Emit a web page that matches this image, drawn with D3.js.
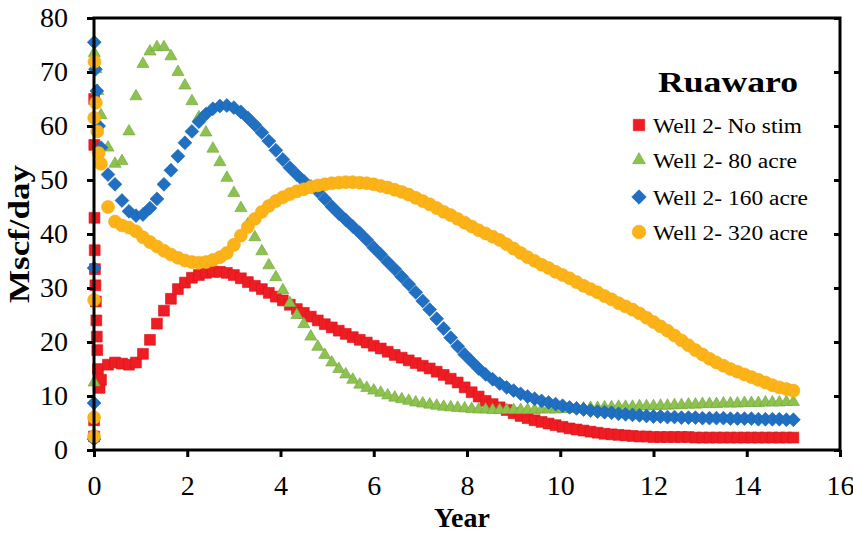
<!DOCTYPE html>
<html>
<head>
<meta charset="utf-8">
<script src="https://cdn.jsdelivr.net/npm/d3@7"></script>
<style>
  html, body { margin: 0; padding: 0; background: #ffffff; }
  svg { display: block; }
  text { font-family: "Liberation Serif", "Times New Roman", serif; fill: #000; }
</style>
</head>
<body>
<svg id="chart" width="853" height="535"></svg>
<script>
// Sampling times (years) of the simulated production profiles
const years = [
  0.15, 0.30, 0.45, 0.60, 0.75, 0.90, 1.05, 1.20, 1.35, 1.50,
  1.65, 1.80, 1.95, 2.10, 2.25, 2.40, 2.55, 2.70, 2.85, 3.00,
  3.15, 3.30, 3.45, 3.60, 3.75, 3.90, 4.05, 4.20, 4.35, 4.50,
  4.65, 4.80, 4.95, 5.10, 5.25, 5.40, 5.55, 5.70, 5.85, 6.00,
  6.15, 6.30, 6.45, 6.60, 6.75, 6.90, 7.05, 7.20, 7.35, 7.50,
  7.65, 7.80, 7.95, 8.10, 8.25, 8.40, 8.55, 8.70, 8.85, 9.00,
  9.15, 9.30, 9.45, 9.60, 9.75, 9.90, 10.05, 10.20, 10.35, 10.50,
  10.65, 10.80, 10.95, 11.10, 11.25, 11.40, 11.55, 11.70, 11.85, 12.00,
  12.15, 12.30, 12.45, 12.60, 12.75, 12.90, 13.05, 13.20, 13.35, 13.50,
  13.65, 13.80, 13.95, 14.10, 14.25, 14.40, 14.55, 14.70, 14.85, 15.00
];

// Gas rate, Mscf/day
const noStim = [
  13.0, 15.8, 16.2, 16.0, 15.8, 16.2, 17.8, 20.4, 23.4, 25.8,
  28.0, 29.8, 31.0, 31.9, 32.4, 32.8, 33.0, 33.0, 32.8, 32.4,
  31.8, 31.1, 30.4, 29.8, 29.1, 28.4, 27.7, 26.9, 26.1, 25.4,
  24.7, 24.0, 23.3, 22.7, 22.1, 21.5, 20.9, 20.4, 19.9, 19.3,
  18.8, 18.2, 17.6, 17.1, 16.6, 16.1, 15.6, 15.1, 14.5, 13.9,
  13.2, 12.5, 11.6, 10.7, 9.9, 9.1, 8.5, 7.9, 7.4, 6.8,
  6.3, 5.9, 5.5, 5.2, 4.9, 4.6, 4.3, 4.0, 3.8, 3.6,
  3.4, 3.2, 3.0, 2.9, 2.8, 2.7, 2.6, 2.5, 2.5, 2.4,
  2.4, 2.4, 2.4, 2.4, 2.4, 2.3, 2.3, 2.3, 2.3, 2.3,
  2.3, 2.3, 2.3, 2.3, 2.3, 2.3, 2.3, 2.3, 2.3, 2.3
];
const acre80 = [
  62.0, 56.0, 53.0, 53.5, 59.0, 65.5, 71.5, 73.8, 74.6, 74.6,
  72.9, 70.0, 67.5, 64.6, 61.6, 58.8, 55.8, 53.3, 50.4, 47.6,
  44.8, 41.8, 39.4, 36.8, 34.2, 32.0, 29.6, 27.2, 25.0, 23.3,
  21.0, 19.1, 17.6, 16.2, 15.0, 14.0, 13.0, 12.1, 11.5, 11.0,
  10.6, 10.1, 9.7, 9.4, 9.1, 8.8, 8.6, 8.4, 8.2, 8.0,
  7.9, 7.8, 7.7, 7.6, 7.5, 7.5, 7.4, 7.4, 7.4, 7.4,
  7.4, 7.4, 7.4, 7.5, 7.5, 7.5, 7.6, 7.6, 7.7, 7.7,
  7.8, 7.8, 7.9, 7.9, 8.0, 8.0, 8.0, 8.1, 8.1, 8.1,
  8.2, 8.2, 8.3, 8.3, 8.4, 8.4, 8.5, 8.5, 8.5, 8.6,
  8.6, 8.6, 8.7, 8.7, 8.7, 8.8, 8.8, 8.8, 8.9, 8.9
];
const acre160 = [
  56.0, 51.0, 49.2, 46.2, 44.2, 43.4, 43.6, 44.8, 46.5, 49.2,
  51.8, 54.4, 56.9, 59.0, 60.8, 62.2, 63.2, 63.7, 63.8, 63.4,
  62.6, 61.5, 60.2, 58.8, 57.2, 55.5, 53.8, 52.3, 51.0, 49.8,
  48.8, 47.9, 46.5, 45.1, 43.8, 42.6, 41.4, 40.2, 38.9, 37.5,
  36.2, 34.8, 33.5, 32.1, 30.7, 29.2, 27.6, 26.0, 24.3, 22.5,
  20.8, 19.2, 17.7, 16.4, 15.1, 14.0, 13.1, 12.3, 11.6, 11.0,
  10.4, 9.9, 9.5, 9.1, 8.8, 8.5, 8.2, 7.9, 7.7, 7.5,
  7.3, 7.1, 7.0, 6.9, 6.7, 6.6, 6.5, 6.4, 6.3, 6.2,
  6.2, 6.1, 6.1, 6.0, 6.0, 6.0, 5.9, 5.9, 5.9, 5.9,
  5.8, 5.8, 5.8, 5.8, 5.7, 5.7, 5.7, 5.7, 5.6, 5.6
];
const acre320 = [
  53.0, 45.0, 42.3, 41.6, 41.2, 40.5, 39.4, 38.5, 37.7, 36.9,
  36.2, 35.6, 35.1, 34.8, 34.7, 34.8, 35.2, 35.7, 36.5, 38.0,
  39.7, 41.3, 42.8, 44.1, 45.2, 46.1, 46.8, 47.4, 47.9, 48.3,
  48.7, 49.0, 49.2, 49.4, 49.5, 49.6, 49.6, 49.5, 49.4, 49.2,
  48.9, 48.6, 48.2, 47.8, 47.3, 46.7, 46.1, 45.5, 44.8, 44.1,
  43.5, 42.8, 42.1, 41.4, 40.7, 40.1, 39.5, 38.9, 38.1, 37.3,
  36.5, 35.7, 35.0, 34.3, 33.7, 33.0, 32.4, 31.8, 31.1, 30.4,
  29.8, 29.2, 28.5, 27.9, 27.2, 26.6, 26.0, 25.3, 24.5, 23.7,
  22.9, 22.1, 21.2, 20.3, 19.4, 18.5, 17.7, 16.9, 16.2, 15.6,
  15.0, 14.5, 14.0, 13.5, 13.0, 12.5, 12.0, 11.6, 11.3, 11.0
];

// First days of production (fine time steps right after start-up)
const noStimEarlyYears = [0.001, 0.002, 0.004, 0.006, 0.010, 0.015, 0.020, 0.030, 0.040, 0.050, 0.060, 0.070, 0.085, 0.100, 0.120];
const noStimEarly      = [2.5, 5.5, 65.0, 56.5, 43.0, 37.0, 33.5, 30.5, 27.5, 24.0, 21.0, 18.5, 15.0, 12.0, 11.5];
const acre80EarlyYears = [0.001, 0.003, 0.006, 0.040, 0.080];
const acre80Early      = [3.0, 12.5, 73.5, 70.5, 66.5];
const acre160EarlyYears = [0.001, 0.002, 0.003, 0.006, 0.030, 0.060, 0.100];
const acre160Early      = [2.0, 8.7, 33.7, 75.5, 70.5, 66.5, 60.0];
const acre320EarlyYears = [0.001, 0.002, 0.003, 0.005, 0.010, 0.040, 0.070, 0.100];
const acre320Early      = [2.5, 6.0, 27.8, 61.5, 71.9, 64.3, 59.0, 55.0];

const seriesNames = ["Well 2- No stim", "Well 2- 80 acre", "Well 2- 160 acre", "Well 2- 320 acre"];
const xTicks = [0, 2, 4, 6, 8, 10, 12, 14, 16];
const yTicks = [0, 10, 20, 30, 40, 50, 60, 70, 80];
const chartTitle = "Ruawaro";
const xTitle = "Year";
const yTitle = "Mscf/day";

const series = [
  { name: seriesNames[0], t: noStimEarlyYears.concat(years),  v: noStimEarly.concat(noStim),  shape: "square",   fill: "#ee1c23", stroke: "#d8161d" },
  { name: seriesNames[1], t: acre80EarlyYears.concat(years),  v: acre80Early.concat(acre80),  shape: "triangle", fill: "#8dc24e", stroke: "#6fa43a" },
  { name: seriesNames[2], t: acre160EarlyYears.concat(years), v: acre160Early.concat(acre160), shape: "diamond",  fill: "#1f6fc2", stroke: "#1a62ae" },
  { name: seriesNames[3], t: acre320EarlyYears.concat(years), v: acre320Early.concat(acre320), shape: "circle",   fill: "#fbb318", stroke: "#f5aa10" }
];

const serif = '"Liberation Serif", "Times New Roman", serif';
const svg = d3.select("#chart");
const plotLeft = 94, plotRight = 840, plotTop = 18, plotBottom = 450;

const x = d3.scaleLinear().domain([0, 16]).range([plotLeft, plotRight]);
const y = d3.scaleLinear().domain([0, 80]).range([plotBottom, plotTop]);

function markerPath(shape, scale) {
  const k = scale || 1;
  if (shape === "square")   return d3.symbol(d3.symbolSquare, 118 * k * k)();
  if (shape === "triangle") return d3.symbol(d3.symbolTriangle, 64 * k * k)();
  if (shape === "diamond")  return d3.symbol(d3.symbolSquare, 96 * k * k)();
  return d3.symbol(d3.symbolCircle, 132 * k * k)();
}
function markerRotation(shape) { return shape === "diamond" ? 45 : 0; }

// data markers
const plot = svg.append("g");
series.forEach(s => {
  const pts = s.t.map((t, i) => ({ t: t, v: s.v[i] }));
  plot.append("g").selectAll("path")
    .data(pts)
    .join("path")
    .attr("d", markerPath(s.shape))
    .attr("transform", d => `translate(${x(d.t)},${y(d.v)}) rotate(${markerRotation(s.shape)})`)
    .attr("fill", s.fill)
    .attr("stroke", s.stroke)
    .attr("stroke-width", 0.6);
});

// frame
svg.append("rect")
  .attr("x", plotLeft).attr("y", plotTop)
  .attr("width", plotRight - plotLeft).attr("height", plotBottom - plotTop)
  .attr("fill", "none").attr("stroke", "#000").attr("stroke-width", 3);

// axes
const axisL = svg.append("g").attr("transform", `translate(${plotLeft},0)`)
  .call(d3.axisLeft(y).tickValues(yTicks).tickSize(7).tickPadding(19));
const axisR = svg.append("g").attr("transform", `translate(${plotRight},0)`)
  .call(d3.axisLeft(y).tickValues(yTicks).tickSize(6).tickFormat(""));
const axisB = svg.append("g").attr("transform", `translate(0,${plotBottom})`)
  .call(d3.axisBottom(x).tickValues(xTicks).tickSize(7).tickPadding(18));

[axisL, axisR, axisB].forEach(g => {
  g.attr("font-family", serif);
  g.select(".domain").remove();
  g.selectAll(".tick line").attr("stroke", "#000").attr("stroke-width", 3);
  g.selectAll(".tick text").style("font-size", "28px").style("font-family", serif);
});

// axis titles
svg.append("text")
  .attr("x", 462).attr("y", 527)
  .attr("text-anchor", "middle")
  .style("font-size", "28px").style("font-weight", "bold")
  .text(xTitle);
svg.append("text")
  .attr("transform", "translate(29,234) rotate(-90)")
  .attr("text-anchor", "middle")
  .attr("textLength", 138).attr("lengthAdjust", "spacingAndGlyphs")
  .style("font-size", "30px").style("font-weight", "bold")
  .text(yTitle);

// chart title and legend
svg.append("text")
  .attr("x", 658).attr("y", 92)
  .attr("textLength", 140).attr("lengthAdjust", "spacingAndGlyphs")
  .style("font-size", "30px").style("font-weight", "bold")
  .text(chartTitle);

const legendRows = [125, 160, 197, 232];
const legendWidths = [149, 144, 155, 155];
const legend = svg.append("g");
series.forEach((s, i) => {
  legend.append("path")
    .attr("d", markerPath(s.shape, 1.05))
    .attr("transform", `translate(639,${legendRows[i]}) rotate(${markerRotation(s.shape)})`)
    .attr("fill", s.fill).attr("stroke", s.stroke).attr("stroke-width", 0.6);
  legend.append("text")
    .attr("x", 653).attr("y", legendRows[i] + 8)
    .attr("textLength", legendWidths[i]).attr("lengthAdjust", "spacingAndGlyphs")
    .style("font-size", "20px")
    .text(s.name);
});
</script>
</body>
</html>
